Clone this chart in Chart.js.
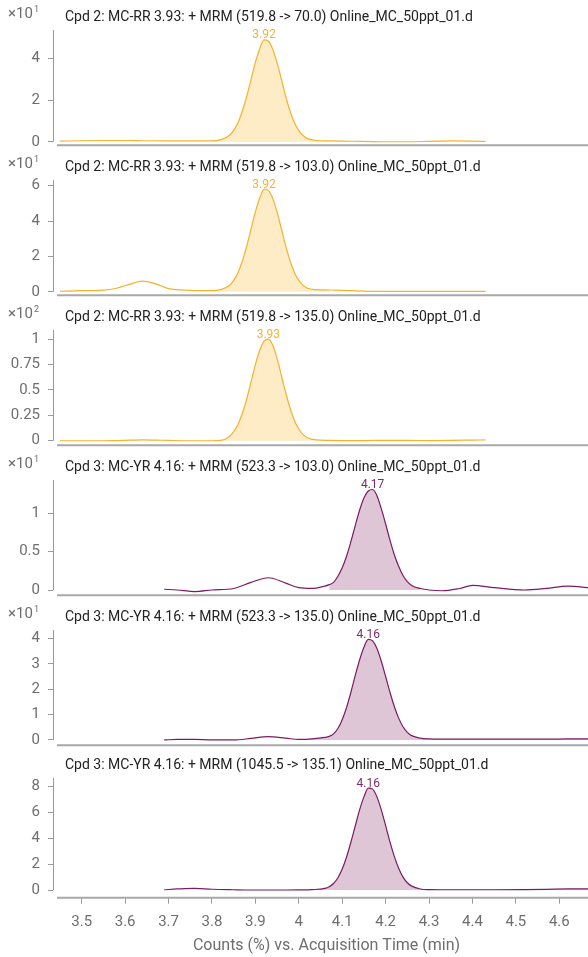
<!DOCTYPE html>
<html>
<head>
<meta charset="utf-8">
<script src="https://cdn.jsdelivr.net/npm/chart.js@4.4.1/dist/chart.umd.min.js"></script>
<style>
  html, body { margin: 0; padding: 0; background: #fff; }
  body { width: 588px; height: 957px; overflow: hidden; position: relative; font-family: Roboto, sans-serif; }
  .panel { position: absolute; left: 0; width: 600px; }
  .panel canvas { position: absolute; left: 0; top: 0; }
  .expo { position: absolute; left: 8px; top: 6px; font-size: 15px; line-height: 15px; color: #6e6e6e; white-space: nowrap; }
  .expo span { font-size: 9px; position: relative; top: -6px; margin-left: 1px; }
  .title { position: absolute; left: 65px; top: 9px; font-size: 14px; line-height: 14px; color: #222; white-space: nowrap; }
</style>
</head>
<body>
<div id="root"></div>
<script>
// --- 1. DATA ---
const timeRR = [3.45, 3.50, 3.55, 3.58, 3.61, 3.64, 3.67, 3.70, 3.75, 3.80,
                3.82, 3.84, 3.85, 3.86, 3.87, 3.88, 3.89, 3.90, 3.91, 3.92,
                3.93, 3.94, 3.95, 3.96, 3.97, 3.98, 3.99, 4.00, 4.01, 4.02,
                4.04, 4.07, 4.10, 4.15, 4.20, 4.25, 4.30, 4.35, 4.40, 4.43];

const rr70 = [0.03, 0.05, 0.06, 0.06, 0.06, 0.05, 0.05, 0.04, 0.04, 0.04,
              0.10, 0.30, 0.55, 0.92, 1.48, 2.18, 3.00, 3.82, 4.48, 4.90,
              4.84, 4.46, 3.80, 3.00, 2.18, 1.47, 0.92, 0.54, 0.30, 0.15,
              0.06, 0.04, 0.03, 0.02, 0.00, 0.00, 0.02, 0.04, 0.03, 0.02];

const rr103 = [0.03, 0.06, 0.09, 0.20, 0.42, 0.60, 0.45, 0.18, 0.08, 0.06,
               0.12, 0.35, 0.64, 1.08, 1.74, 2.58, 3.55, 4.52, 5.30, 5.80,
               5.72, 5.28, 4.50, 3.55, 2.58, 1.74, 1.08, 0.64, 0.36, 0.20,
               0.12, 0.10, 0.08, 0.04, 0.02, 0.02, 0.02, 0.02, 0.02, 0.02];

const rr135 = [0.000, 0.000, 0.000, 0.002, 0.005, 0.008, 0.006, 0.003, 0.000, 0.000,
               0.003, 0.040, 0.090, 0.160, 0.270, 0.410, 0.580, 0.750, 0.890, 0.980,
               1.000, 0.940, 0.810, 0.640, 0.470, 0.320, 0.200, 0.115, 0.060, 0.030,
               0.008, 0.003, 0.002, 0.002, 0.003, 0.003, 0.002, 0.003, 0.006, 0.008];

const timeYR = [3.69, 3.72, 3.76, 3.80, 3.85, 3.89, 3.93, 3.97, 4.00, 4.03,
                4.06, 4.07, 4.08, 4.09, 4.10, 4.11, 4.12, 4.13, 4.14, 4.15,
                4.16, 4.17, 4.18, 4.19, 4.20, 4.21, 4.22, 4.23, 4.24, 4.25,
                4.26, 4.28, 4.30, 4.33, 4.37, 4.40, 4.45, 4.52, 4.57, 4.62, 4.67];

const yr103 = [0.01, 0.00, -0.02, 0.00, 0.02, 0.10, 0.16, 0.09, 0.03, 0.02,
               0.05, 0.07, 0.10, 0.18, 0.29, 0.44, 0.63, 0.84, 1.04, 1.20,
               1.29, 1.31, 1.23, 1.06, 0.86, 0.65, 0.46, 0.31, 0.19, 0.11,
               0.06, 0.02, 0.00, -0.01, 0.02, 0.06, 0.03, 0.00, 0.02, 0.05, 0.03];

const yr135 = [0.00, 0.02, 0.02, 0.00, 0.00, 0.06, 0.13, 0.07, 0.02, 0.04,
               0.10, 0.14, 0.24, 0.45, 0.80, 1.28, 1.88, 2.54, 3.15, 3.65,
               3.96, 3.90, 3.60, 3.10, 2.50, 1.88, 1.32, 0.86, 0.52, 0.30,
               0.17, 0.07, 0.04, 0.03, 0.03, 0.03, 0.03, 0.03, 0.03, 0.04, 0.04];

const yr1045 = [0.02, 0.08, 0.13, 0.06, 0.02, 0.00, 0.00, 0.00, 0.01, 0.03,
                0.12, 0.25, 0.50, 0.95, 1.62, 2.55, 3.70, 4.95, 6.20, 7.20,
                7.88, 7.80, 7.20, 6.20, 4.98, 3.72, 2.60, 1.68, 1.00, 0.56,
                0.30, 0.08, 0.03, 0.02, 0.02, 0.02, 0.02, 0.03, 0.05, 0.08, 0.08];

const panelTitles = [
    'Cpd 2: MC-RR 3.93: + MRM (519.8 -> 70.0) Online_MC_50ppt_01.d',
    'Cpd 2: MC-RR 3.93: + MRM (519.8 -> 103.0) Online_MC_50ppt_01.d',
    'Cpd 2: MC-RR 3.93: + MRM (519.8 -> 135.0) Online_MC_50ppt_01.d',
    'Cpd 3: MC-YR 4.16: + MRM (523.3 -> 103.0) Online_MC_50ppt_01.d',
    'Cpd 3: MC-YR 4.16: + MRM (523.3 -> 135.0) Online_MC_50ppt_01.d',
    'Cpd 3: MC-YR 4.16: + MRM (1045.5 -> 135.1) Online_MC_50ppt_01.d'
];
const panelExponents = ['1', '1', '2', '1', '1', null];
const peakWindows = [[3.80, 4.07], [3.80, 4.07], [3.80, 4.07], [4.07, 4.28], [4.00, 4.67], [4.03, 4.67]];

const yTicks = [[0, 2, 4], [0, 2, 4, 6], [0, 0.25, 0.5, 0.75, 1], [0, 0.5, 1], [0, 1, 2, 3, 4], [0, 2, 4, 6, 8]];
const yMax = [5.38, 6.32, 1.09, 1.434, 4.33, 8.66];
const yMin = [-0.17, -0.2, -0.045, -0.069, -0.21, -0.595];
const xTicks = [3.5, 3.6, 3.7, 3.8, 3.9, 4.0, 4.1, 4.2, 4.3, 4.4, 4.5, 4.6];
const xMin = 3.4339;
const xMax = 4.6937;
const xTitle = 'Counts (%) vs. Acquisition Time (min)';

// --- 2. STYLE ---
const ORANGE = { line: '#F5B22A', fill: 'rgba(250, 200, 90, 0.35)', label: '#F2B33D' };
const PURPLE = { line: '#7B1B63', fill: 'rgba(122, 26, 94, 0.25)', label: '#7F2A6B' };
const TICK_COLOR = '#6e6e6e';
const AXIS_COLOR = '#9a9a9a';

const panels = [
    { time: timeRR, values: rr70,   color: ORANGE, top: 0,   height: 150 },
    { time: timeRR, values: rr103,  color: ORANGE, top: 150, height: 150 },
    { time: timeRR, values: rr135,  color: ORANGE, top: 300, height: 150 },
    { time: timeYR, values: yr103,  color: PURPLE, top: 450, height: 150 },
    { time: timeYR, values: yr135,  color: PURPLE, top: 600, height: 150 },
    { time: timeYR, values: yr1045, color: PURPLE, top: 748, height: 209 }
];

// --- 3. PLUGINS ---
// y axis line stops at zero, x axis line starts a bit right of it
const axisLines = {
    id: 'axisLines',
    afterDraw(chart) {
        const { ctx, chartArea, scales } = chart;
        ctx.save();
        ctx.strokeStyle = AXIS_COLOR;
        ctx.lineWidth = 1;
        ctx.beginPath();
        ctx.moveTo(chartArea.left + 0.5, chartArea.top);
        ctx.lineTo(chartArea.left + 0.5, scales.y.getPixelForValue(0));
        ctx.stroke();
        ctx.strokeStyle = '#a8a8a8';
        ctx.lineWidth = 2;
        ctx.beginPath();
        ctx.moveTo(chartArea.left + 4, chartArea.bottom);
        ctx.lineTo(chartArea.right, chartArea.bottom);
        ctx.stroke();
        ctx.restore();
    }
};

const peakLabel = {
    id: 'peakLabel',
    afterDatasetsDraw(chart, args, opts) {
        const pts = chart.data.datasets[0].data;
        let best = pts[0];
        pts.forEach(p => { if (p.y > best.y) best = p; });
        const x = chart.scales.x.getPixelForValue(best.x);
        const y = chart.scales.y.getPixelForValue(best.y);
        const ctx = chart.ctx;
        ctx.save();
        ctx.font = '12px Roboto';
        ctx.fillStyle = opts.color;
        ctx.textAlign = 'center';
        ctx.textBaseline = 'alphabetic';
        ctx.fillText(best.x.toFixed(2), x, y - 1.5);
        ctx.restore();
    }
};

// --- 4. BUILD PANELS ---
const root = document.getElementById('root');

panels.forEach((p, i) => {
    const last = i === panels.length - 1;
    const div = document.createElement('div');
    div.className = 'panel';
    div.style.top = p.top + 'px';
    div.style.height = p.height + 'px';
    const canvas = document.createElement('canvas');
    canvas.width = 600;
    canvas.height = p.height;
    div.appendChild(canvas);

    if (panelExponents[i]) {
        const ex = document.createElement('div');
        ex.className = 'expo';
        ex.textContent = '\u00d710';
        const sup = document.createElement('span');
        sup.textContent = panelExponents[i];
        ex.appendChild(sup);
        div.appendChild(ex);
    }
    const title = document.createElement('div');
    title.className = 'title';
    title.textContent = panelTitles[i];
    div.appendChild(title);
    root.appendChild(div);

    const pts = p.time.map((x, k) => ({ x: x, y: p.values[k] }));
    const win = peakWindows[i];
    const fillPts = pts.filter(d => d.x >= win[0] - 1e-9 && d.x <= win[1] + 1e-9);

    new Chart(canvas.getContext('2d'), {
        type: 'line',
        data: {
            datasets: [{
                data: pts,
                borderColor: p.color.line,
                borderWidth: 1.2,
                pointRadius: 0,
                fill: false,
                cubicInterpolationMode: 'monotone'
            }, {
                data: fillPts,
                borderWidth: 0,
                borderColor: 'rgba(0,0,0,0)',
                backgroundColor: p.color.fill,
                pointRadius: 0,
                fill: 'origin',
                cubicInterpolationMode: 'monotone'
            }]
        },
        options: {
            responsive: false,
            animation: false,
            layout: { padding: { top: 30, bottom: last ? 0 : 4.7, left: 0, right: 0 } },
            plugins: {
                legend: { display: false },
                tooltip: { enabled: false },
                peakLabel: { color: p.color.label }
            },
            scales: {
                x: {
                    type: 'linear',
                    min: xMin,
                    max: xMax,
                    display: last,
                    afterBuildTicks: s => { s.ticks = xTicks.map(v => ({ value: v })); },
                    afterFit: s => {
                        s.height = last ? 59.3 : 0;
                        s.paddingLeft = 0;
                        s.paddingRight = 0;
                    },
                    grid: { drawOnChartArea: false, tickLength: 6, color: AXIS_COLOR },
                    border: { display: false },
                    ticks: {
                        padding: 10,
                        color: TICK_COLOR,
                        font: { family: 'Roboto', size: 15 },
                        maxRotation: 0,
                        autoSkip: false,
                        callback: v => String(Math.round(v * 10) / 10)
                    },
                    title: {
                        display: true,
                        text: xTitle,
                        color: TICK_COLOR,
                        font: { family: 'Roboto', size: 16 },
                        padding: { top: 4, bottom: 1 }
                    }
                },
                y: {
                    min: yMin[i],
                    max: yMax[i],
                    afterBuildTicks: s => { s.ticks = yTicks[i].map(v => ({ value: v })); },
                    afterFit: s => {
                        s.width = 53;
                        s.paddingTop = 0;
                        s.paddingBottom = 0;
                    },
                    grid: { drawOnChartArea: false, tickLength: 5, color: AXIS_COLOR },
                    border: { display: false },
                    ticks: {
                        padding: 8,
                        color: TICK_COLOR,
                        font: { family: 'Roboto', size: 15 },
                        callback: v => String(v)
                    }
                }
            }
        },
        plugins: [axisLines, peakLabel]
    });
});
</script>
</body>
</html>
